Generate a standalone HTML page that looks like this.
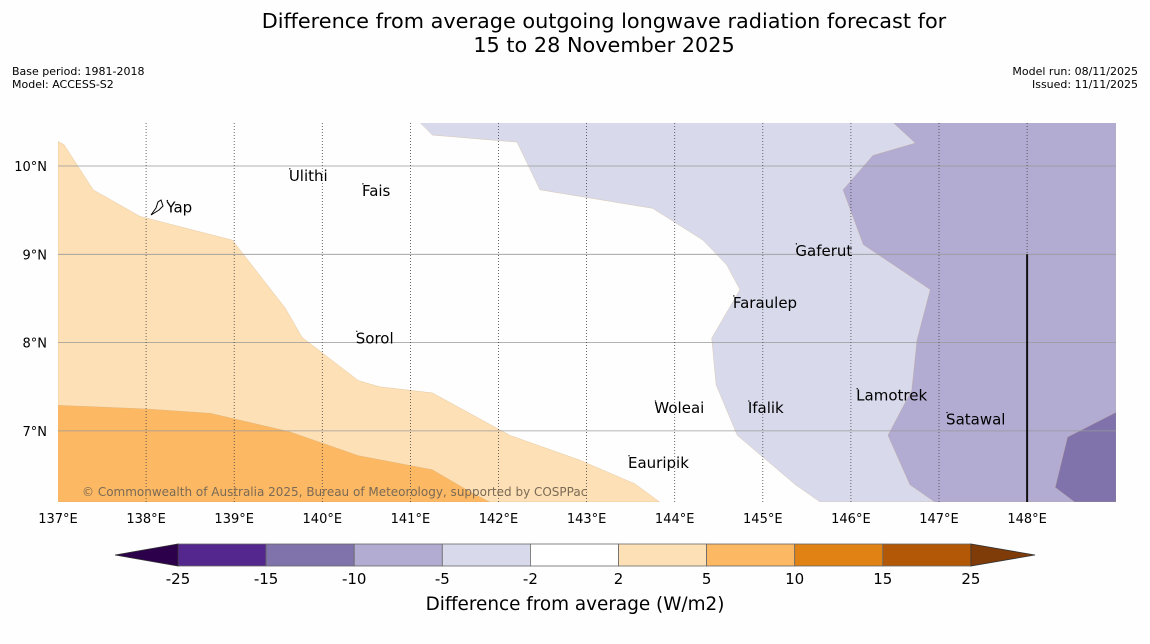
<!DOCTYPE html>
<html><head><meta charset="utf-8">
<style>
body{margin:0;background:#fff;width:1150px;height:644px;overflow:hidden;font-family:"DejaVu Sans","Liberation Sans",sans-serif;}
svg{display:block}
</style></head>
<body>
<svg id="c" width="1150" height="644" viewBox="0 0 1150 644" xmlns="http://www.w3.org/2000/svg" font-family="DejaVu Sans, Liberation Sans, sans-serif">
<rect width="1150" height="644" fill="#fefefe"/>
<text x="604" y="28" font-size="20.8" text-anchor="middle">Difference from average outgoing longwave radiation forecast for</text>
<text x="604" y="52" font-size="20.8" text-anchor="middle">15 to 28 November 2025</text>
<text x="12" y="75" font-size="11">Base period: 1981-2018</text>
<text x="12" y="88" font-size="11">Model: ACCESS-S2</text>
<text x="1138" y="75" font-size="11" text-anchor="end">Model run: 08/11/2025</text>
<text x="1138" y="88" font-size="11" text-anchor="end">Issued: 11/11/2025</text>
<g id="map"></g>
<g id="cbar"></g>
<text x="575" y="610" font-size="18.4" text-anchor="middle">Difference from average (W/m2)</text>
</svg>
<script>
const lonTicks=[137,138,139,140,141,142,143,144,145,146,147,148];
const latTicks=[7,8,9,10];
const levels=[-25,-15,-10,-5,-2,2,5,10,15,25];
const levelColors=["#54278f","#8073ac","#b2abd2","#d8daeb","#ffffff","#fee0b6","#fdb863","#e08214","#b35806"];
const band2to5Lon=[137,137.07,137.40,137.93,138.98,139.58,139.77,140.41,140.65,141.25,142.13,142.92,143.55,143.83,137];
const band2to5Lat=[10.28,10.24,9.73,9.43,9.16,8.39,8.06,7.57,7.50,7.43,6.95,6.67,6.40,6.195,6.195];
const band5to10Lon=[137,137.99,138.73,139.63,140.41,141.25,141.68,141.90,137];
const band5to10Lat=[7.29,7.25,7.20,6.99,6.72,6.56,6.31,6.195,6.195];
const bandM5Lon=[141.11,141.25,142.21,142.47,143.75,144.32,144.59,144.74,144.42,144.47,144.71,145.37,145.65,149.01,149.01];
const bandM5Lat=[10.49,10.35,10.27,9.73,9.52,9.16,8.88,8.60,8.05,7.52,6.95,6.39,6.195,6.195,10.49];
const bandM10Lon=[146.48,146.73,146.25,145.91,146.14,146.90,146.75,146.69,146.42,146.67,146.95,149.01,149.01];
const bandM10Lat=[10.49,10.26,10.12,9.73,9.11,8.60,8.03,7.46,6.95,6.39,6.195,6.195,10.49];
const bandM15Lon=[149.01,148.46,148.32,148.54,149.01];
const bandM15Lat=[7.21,6.93,6.36,6.195,6.195];
const placeNames=["Ulithi","Yap","Fais","Gaferut","Faraulep","Sorol","Woleai","Ifalik","Lamotrek","Satawal","Eauripik"];
const placeLon=[139.62,138.23,140.45,145.37,144.66,140.38,143.77,144.83,146.06,147.08,143.47];
const placeLat=[9.90,9.54,9.73,9.05,8.46,8.06,7.27,7.27,7.41,7.14,6.65];

const NS="http://www.w3.org/2000/svg";
const X0=58,X1=1116,Y0=123,Y1=502;
const xs=lon=>58+(lon-137)*88.1;
const ys=lat=>166+(10-lat)*88.3;
const map=document.getElementById('map');
function mk(tag,attrs,parent){const e=document.createElementNS(NS,tag);for(const k in attrs)e.setAttribute(k,attrs[k]);(parent||map).appendChild(e);return e;}
const clip=mk('clipPath',{id:'mc'});mk('rect',{x:X0,y:Y0,width:X1-X0,height:Y1-Y0},clip);
const g=mk('g',{'clip-path':'url(#mc)'});
function poly(lons,lats,fill,name){
  const p=mk('polygon',{points:lons.map((l,i)=>xs(l)+','+ys(lats[i])).join(' '),fill:fill,stroke:'#c8a878','stroke-width':0.5,'stroke-opacity':0.5},g);
  
  
}
poly(band2to5Lon,band2to5Lat,levelColors[5],'contour-2-to-5');
poly(band5to10Lon,band5to10Lat,levelColors[6],'contour-5-to-10');
poly(bandM5Lon,bandM5Lat,levelColors[3],'contour-minus5-to-minus2');
poly(bandM10Lon,bandM10Lat,levelColors[2],'contour-minus10-to-minus5');
poly(bandM15Lon,bandM15Lat,levelColors[1],'contour-minus15-to-minus10');
latTicks.forEach(lat=>{
  const y=ys(lat);
  const l=mk('line',{x1:X0,x2:X1,y1:y,y2:y,stroke:'#999','stroke-width':0.8});
  
  
  const t=mk('text',{x:47,y:y+5,'font-size':13,'text-anchor':'end'});t.textContent=lat+'°N';
  
  
});
lonTicks.forEach(lon=>{
  const x=xs(lon);
  if(lon>137){const l=mk('line',{x1:x,x2:x,y1:Y0,y2:Y1,stroke:'#444','stroke-width':0.8,'stroke-dasharray':'1,2'});
  
  }
  const t=mk('text',{x:x,y:523,'font-size':13,'text-anchor':'middle'});t.textContent=lon+'°E';
  
  
});
const vl=mk('line',{x1:xs(148),x2:xs(148),y1:ys(9),y2:Y1,stroke:'#111','stroke-width':2});


const yap=mk('path',{d:'M151,215 L156,208 L158,202 L161,200 L163,206 L159,210 Z',fill:'none',stroke:'#000','stroke-width':1});


placeNames.forEach((n,i)=>{
  const x=xs(placeLon[i]),y=ys(placeLat[i]);
  const d=mk('circle',{cx:x+1,cy:y-6,r:0.7,fill:'#000'});
  
  
  const t=mk('text',{x:x,y:y+6,'font-size':15});t.textContent=n;
  
  
});
const cp=mk('text',{x:82,y:496,'font-size':12,fill:'#7a6a55'});
cp.textContent='© Commonwealth of Australia 2025, Bureau of Meteorology, supported by COSPPac';



const cb=document.getElementById('cbar');
const CX0=178,CW=88.1,CY=544,CH=22;
levelColors.forEach((c,i)=>{
  const r=mk('rect',{x:CX0+i*CW,y:CY,width:CW,height:CH,fill:c,stroke:'#666','stroke-width':0.8},cb);
  
  
});
const xe=CX0+levelColors.length*CW;
const a1=mk('polygon',{points:`${CX0},${CY} ${CX0},${CY+CH} 115,${CY+CH/2}`,fill:'#2d004b',stroke:'#333','stroke-width':0.8},cb);


const a2=mk('polygon',{points:`${xe},${CY} ${xe},${CY+CH} 1035,${CY+CH/2}`,fill:'#7f3b08',stroke:'#333','stroke-width':0.8},cb);


levels.forEach((v,i)=>{
  const t=mk('text',{x:CX0+i*CW,y:584,'font-size':15,'text-anchor':'middle'},cb);t.textContent=v;
  
  
});
</script>
</body></html>
